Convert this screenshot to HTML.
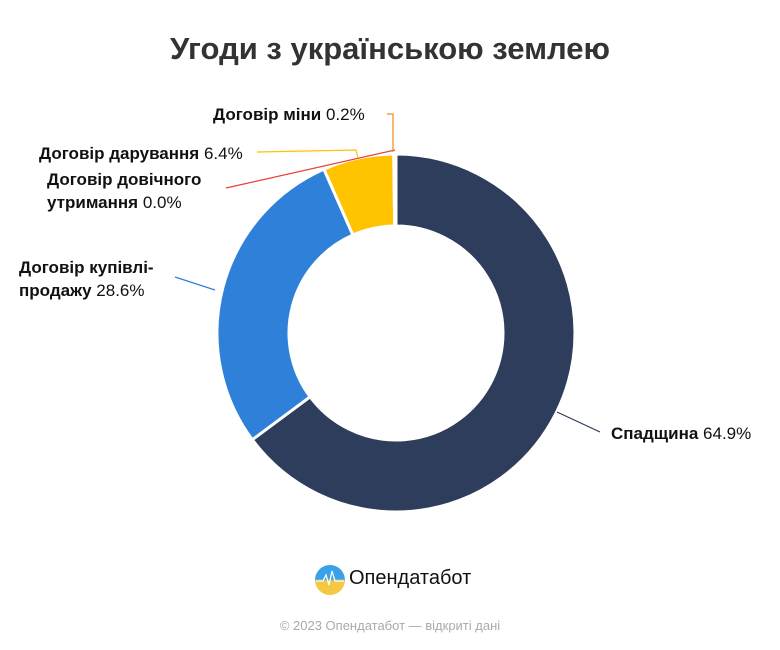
<!DOCTYPE html>
<html><head><meta charset="utf-8"><style>
body{margin:0;background:#fff;width:780px;height:650px;overflow:hidden;font-family:"Liberation Sans","DejaVu Sans",sans-serif}
#t{position:absolute;top:31px;left:0;width:780px;text-align:center;font-size:31px;font-weight:bold;color:#333}
.lb{position:absolute;font-size:17px;color:#111;line-height:23px}
.lb b{font-weight:bold}
</style></head><body>
<div id="t">Угоди з українською землею</div>
<svg id="c" width="780" height="650" style="position:absolute;left:0;top:0"></svg>
<div class="lb" style="left:213px;top:103px"><b>Договір міни</b> 0.2%</div>
<div class="lb" style="left:39px;top:142px"><b>Договір дарування</b> 6.4%</div>
<div class="lb" style="left:47px;top:168px"><b>Договір довічного<br>утримання</b> 0.0%</div>
<div class="lb" style="left:19px;top:256px"><b>Договір купівлі-<br>продажу</b> 28.6%</div>
<div class="lb" style="left:611px;top:422px"><b>Спадщина</b> 64.9%</div>
<svg width="32" height="32" style="position:absolute;left:314px;top:564px">
<defs><linearGradient id="g" x1="0" y1="0" x2="0" y2="1"><stop offset="0.45" stop-color="#3aa0e8"/><stop offset="0.55" stop-color="#f4c842"/></linearGradient></defs>
<circle cx="16" cy="16" r="15" fill="url(#g)"/><polyline points="2,17 9,17 12,11 15,21 18,7 21,17 30,17" fill="none" stroke="#fff" stroke-width="1.3"/></svg>
<div style="position:absolute;left:349px;top:567px;font-size:20px;color:#111">Опендатабот</div>
<div style="position:absolute;left:0;top:618px;width:780px;text-align:center;font-size:13px;color:#aaa">© 2023 Опендатабот — відкриті дані</div>
<script>
const categories=["Спадщина","Договір купівлі-продажу","Договір довічного утримання","Договір дарування","Договір міни"];
const values=[64.9,28.6,0.0,6.4,0.2];
const colors=["#2e3d5c","#2e80d8","#ef3b3b","#ffc300","#f08a1a"];
const cx=396,cy=333,R=179,r=107;
const svg=document.getElementById('c');
const NS="http://www.w3.org/2000/svg";
const total=values.reduce((a,b)=>a+b,0);
function pt(a,rad){return [cx+rad*Math.sin(a),cy-rad*Math.cos(a)];}
let a0=0;
values.forEach((v,i)=>{
 const a1=a0+v/total*2*Math.PI;
 if(v>0){
  const p=document.createElementNS(NS,'path');
  const big=(a1-a0)>Math.PI?1:0;
  const [x0,y0]=pt(a0,R),[x1,y1]=pt(a1,R),[x2,y2]=pt(a1,r),[x3,y3]=pt(a0,r);
  p.setAttribute('d',`M${x0},${y0}A${R},${R} 0 ${big} 1 ${x1},${y1}L${x2},${y2}A${r},${r} 0 ${big} 0 ${x3},${y3}Z`);
  p.setAttribute('fill',colors[i]);p.setAttribute('stroke','#fff');p.setAttribute('stroke-width','3');p.setAttribute('stroke-linejoin','round');
  
  
  svg.appendChild(p);
 }
 a0=a1;
});
const leaders=[["M557,412 L600,432","#2e3d5c"],["M175,277 L215,290","#2e80d8"],["M226,188 L395,150","#ef3b3b"],["M257,152 L356,150 L358,158","#ffc300"],["M387,114 L393,114 L393,152","#f08a1a"]];
leaders.forEach(l=>{
 const p=document.createElementNS(NS,'path');
 p.setAttribute('d',l[0]);p.setAttribute('stroke',l[1]);p.setAttribute('fill','none');p.setAttribute('stroke-width','1.2');
 
 
 svg.appendChild(p);
});
</script>
</body></html>
